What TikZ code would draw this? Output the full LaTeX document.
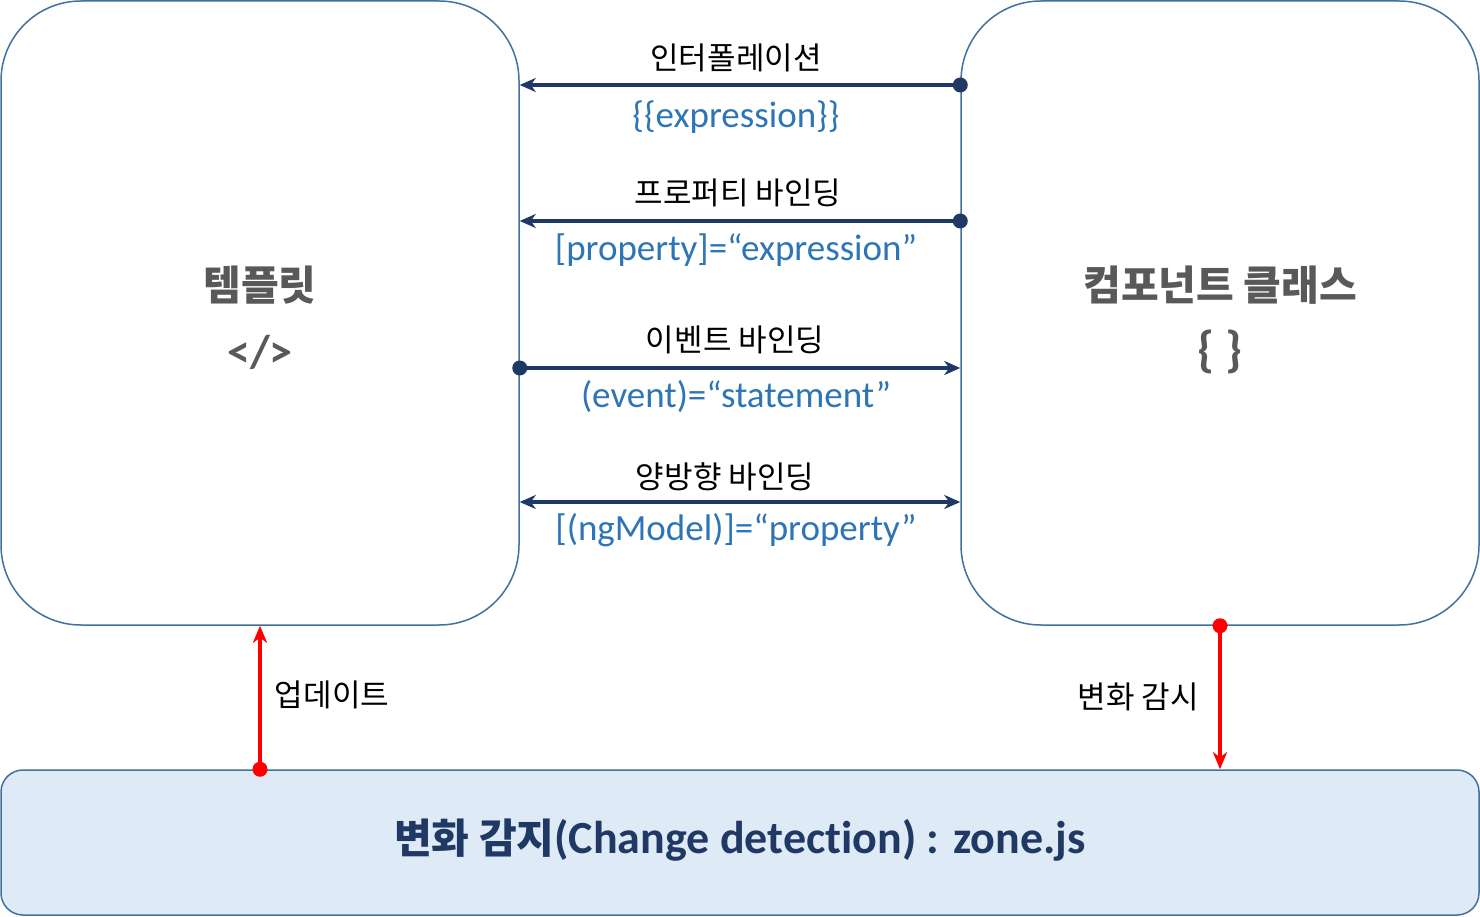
\documentclass[tikz,border=0pt]{standalone}
\usepackage{fontspec}
\setmainfont{Carlito}[Ligatures=CommonOff]
\newfontfamily\kr{Noto Sans CJK KR}
\usetikzlibrary{arrows.meta,calc}
\definecolor{boxline}{HTML}{41719C}
\definecolor{navy}{HTML}{203864}
\definecolor{codeblue}{HTML}{2E75B6}
\definecolor{cdfill}{HTML}{DEEBF7}
\definecolor{titlegray}{HTML}{595959}
\definecolor{alarm}{HTML}{FF0000}
\tikzset{
  bigbox/.style={draw=boxline, line width=1.5pt, rounded corners=80pt, fill=white, inner sep=0pt},
  cdbox/.style={draw=boxline, line width=1.5pt, rounded corners=22pt, fill=cdfill, inner sep=0pt},
  bindarrow/.style={draw=navy, line width=4.5pt, -{Stealth[length=16pt,width=14pt,inset=5pt]}},
  bindboth/.style={draw=navy, line width=4.5pt, {Stealth[length=16pt,width=14pt,inset=5pt]}-{Stealth[length=16pt,width=14pt,inset=5pt]}},
  redarrow/.style={draw=alarm, line width=4.5pt, -{Stealth[length=17pt,width=14pt,inset=5pt]}},
  krlabel/.style={font=\kr\fontsize{31}{35}\selectfont, text=black, inner sep=0pt},
  codelabel/.style={font=\fontsize{37}{41}\selectfont, text=codeblue, inner sep=0pt},
  title/.style={font=\kr\bfseries\fontsize{41}{46}\selectfont, text=titlegray, inner sep=0pt},
  symb/.style={font=\bfseries\fontsize{46}{50}\selectfont, text=titlegray, inner sep=0pt},
}
\begin{document}
\begin{tikzpicture}[x=1pt,y=-1pt]
\useasboundingbox (0,0) rectangle (1480,917);
\node[bigbox, minimum width=518pt, minimum height=624pt] (tmpl) at (260,313) {};
\node[bigbox, minimum width=518pt, minimum height=624pt] (comp) at (1220,313) {};
\node[cdbox, minimum width=1478pt, minimum height=145pt] (cd) at (740,842.5) {};

\node[title] (tmpltitle) at (260,285) {템플릿};
\node[symb] (tmplsym) at (260,352) {</>};
\node[title] (comptitle) at (1220,285) {컴포넌트 클래스};
\node[symb, font=\bfseries\fontsize{50}{54}\selectfont] (compsym) at (1220,352) {\{\hspace{10pt}\}};
\node[font=\bfseries\fontsize{46}{50}\selectfont, text=navy, inner sep=0pt] (cdtext) at (740,840) {{\kr\fontsize{41}{46}\selectfont 변화 감지}(Change detection) : zone.js};

% y levels
\coordinate (y1) at (0,85);
\coordinate (y2) at (0,221);
\coordinate (y3) at (0,368);
\coordinate (y4) at (0,502);

\draw[bindarrow] (comp.west |- y1) -- (tmpl.east |- y1);
\fill[navy] (comp.west |- y1) circle (7.5pt);
\draw[bindarrow] (comp.west |- y2) -- (tmpl.east |- y2);
\fill[navy] (comp.west |- y2) circle (7.5pt);
\draw[bindarrow] (tmpl.east |- y3) -- (comp.west |- y3);
\fill[navy] (tmpl.east |- y3) circle (7.5pt);
\draw[bindboth] (tmpl.east |- y4) -- (comp.west |- y4);

\node[krlabel] (l1) at (736,58) {인터폴레이션};
\node[codelabel] (c1) at (736,117) {\{\{expression\}\}};
\node[krlabel] (l2) at (738,193) {프로퍼티 바인딩};
\node[codelabel] (c2) at (736,250) {[property]=“expression”};
\node[krlabel] (l3) at (735,340) {이벤트 바인딩};
\node[codelabel] (c3) at (736,397) {(event)=“statement”};
\node[krlabel] (l4) at (725,477) {양방향 바인딩};
\node[codelabel] (c4) at (736,530) {[(ngModel)]=“property”};

\draw[redarrow] (tmpl.south |- cd.north) -- (tmpl.south);
\fill[alarm] (tmpl.south |- cd.north) circle (7.5pt);
\draw[redarrow] (comp.south) -- (comp.south |- cd.north);
\fill[alarm] (comp.south) circle (7.5pt);

\node[krlabel] (upd) at (332,695) {업데이트};
\node[krlabel] (watch) at (1138,697) {변화 감시};
\end{tikzpicture}
\end{document}
